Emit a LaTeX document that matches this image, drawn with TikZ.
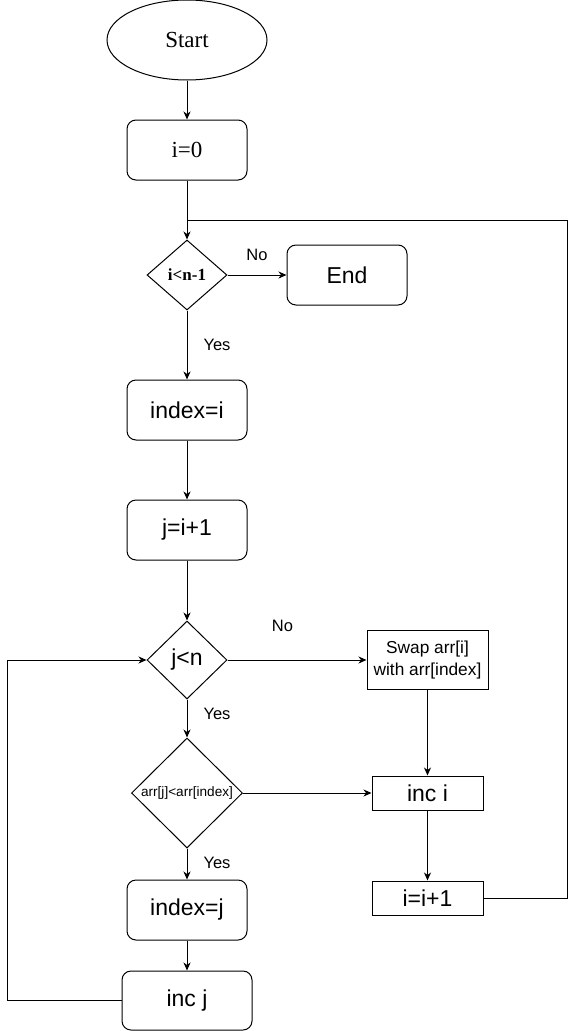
\documentclass[tikz,border=0pt]{standalone}
\usepackage{fontspec}
\setmainfont{Liberation Sans}
\newfontfamily\serifface{Liberation Serif}
\usetikzlibrary{shapes.geometric,arrows.meta}
\begin{document}
\begin{tikzpicture}[x=1pt,y=-1pt,
  line width=1pt,
  >={Stealth[length=8pt,width=7pt,inset=2.5pt]},
  bigtxt/.style={font=\fontsize{23}{27}\selectfont},
  rbox/.style={draw, rounded corners=9pt, inner sep=0pt, bigtxt, minimum width=120pt, minimum height=60pt},
  sbox/.style={draw, inner sep=0pt, bigtxt, minimum width=110pt, minimum height=34pt},
  dia/.style={draw, diamond, inner sep=0pt, aspect=1},
  lbl/.style={inner sep=0pt, font=\fontsize{16.5}{20}\selectfont}
]
\useasboundingbox (0,0) rectangle (576,1031);
\node[draw, ellipse, minimum width=160pt, minimum height=80pt, inner sep=0pt, font=\serifface\fontsize{23}{27}\selectfont] (start) at (187,40) {Start};
\node[rbox, font=\serifface\fontsize{23}{27}\selectfont] (i0) at (187,150) {i=0};
\node[dia, minimum width=80pt, minimum height=70pt, font=\serifface\bfseries\fontsize{17}{20}\selectfont] (d1) at (187,275) {i<n-1};
\node[rbox] (end) at (347,275) {End};
\node[rbox] (idx) at (187,410) {index=i};
\node[rbox] (jset) at (187,530) {j=i+1};
\node[dia, minimum width=80pt, minimum height=78pt, bigtxt] (d2) at (187,660) {j<n};
\node[draw, inner sep=0pt, minimum width=121pt, minimum height=59pt, align=center, font=\fontsize{17.3}{22}\selectfont] (swap) at (427.5,660) {Swap arr[i]\\with arr[index]};
\node[dia, minimum width=111pt, minimum height=110pt, font=\fontsize{13.6}{16}\selectfont] (d3) at (187,793) {arr[j]<arr[index]};
\node[sbox, minimum width=111pt] (inci) at (427.5,793) {inc i};
\node[sbox, minimum width=111pt] (iinc) at (427.5,898) {i=i+1};
\node[rbox] (idxj) at (187,910) {index=j};
\node[rbox, minimum width=130pt, minimum height=59pt] (incj) at (187,1000.5) {inc j};
\coordinate (join) at (187,220);
\coordinate (rtop) at (567,220);
\coordinate (lft) at (7,660);
\node[lbl] (no1) at (257,255) {No};
\node[lbl] (yes1) at (217,345) {Yes};
\node[lbl] (no2) at (282.5,626) {No};
\node[lbl] (yes2) at (217,714) {Yes};
\node[lbl] (yes3) at (217,863) {Yes};
\draw[->] (start) -- (i0);
\draw[->] (i0) -- (d1);
\draw[->] (d1) -- (end);
\draw[->] (d1) -- (idx);
\draw[->] (idx) -- (jset);
\draw[->] (jset) -- (d2);
\draw[->] (d2) -- (swap);
\draw[->] (d2) -- (d3);
\draw[->] (d3) -- (inci);
\draw[->] (d3) -- (idxj);
\draw[->] (idxj) -- (incj);
\draw[->] (incj.west) -| (lft) -- (d2.west);
\draw[->] (swap.south -| inci.north) -- (inci.north);
\draw[->] (inci) -- (iinc);
\draw (iinc.east) -| (rtop) -- (join);
\end{tikzpicture}
\end{document}
